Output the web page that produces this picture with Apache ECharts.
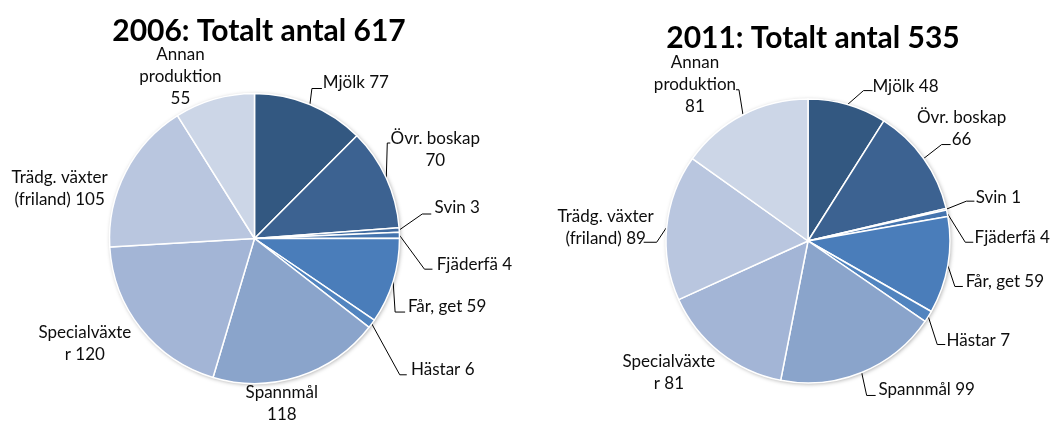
<!DOCTYPE html>
<html>
<head>
<meta charset="utf-8">
<script src="https://cdn.jsdelivr.net/npm/echarts@6/dist/echarts.min.js"></script>
<style>
  html, body { margin: 0; background: #fff; }
  #chart { width: 1058px; height: 421px; }
</style>
</head>
<body>
<div id="chart"></div>
<script>
// data
const categories = ['Mjölk', 'Övr. boskap', 'Svin', 'Fjäderfä', 'Får, get', 'Hästar',
  'Spannmål', 'Specialväxter', 'Trädg. växter (friland)', 'Annan produktion']
const values2006 = [77, 70, 3, 4, 59, 6, 118, 120, 105, 55]
const values2011 = [48, 66, 1, 4, 59, 7, 99, 81, 89, 81]
const titles = ['2006: Totalt antal 617', '2011: Totalt antal 535']

const colors = ['#335881', '#3c6291', '#416ba0', '#4574ae', '#4a7dba', '#5184bf',
  '#8aa4cb', '#a3b5d6', '#b9c6df', '#ccd6e7']

// where Excel wrapped the "name value" label text (character index)
const wrap2006 = [[], [11], [], [], [], [], [8], [12], [13], [5, 16]]
const wrap2011 = [[], [11], [], [], [], [], [], [12], [13], [5, 16]]

// label placement relative to the slice's edge point: [labelX, labelY, leader line [ex, ey, hx] or null]
const place2006 = [
  [46, -22, [2, -16, 10]],
  [49, -29, [1, -35, 3]],
  [58, -22, [23, -16, 9]],
  [75, 29, [25, 34, 8]],
  [54, 25, [2, 31, 10]],
  [71, 46, [28, 51, 7]],
  [-17, 27, null],
  [-56, 15, null],
  [-66, 16, null],
  [-34, -23, null]
]
const place2011 = [
  [58, -18, [16, -14, 9]],
  [38, -30, [18, -14, 9]],
  [52, -12, [20, -8, 8]],
  [65, 24, [18, 29, 8]],
  [57, 16, [7, 21, 8]],
  [50, 24, [9, 28, 8]],
  [65, 17, [5, 23, 9]],
  [-51, 20, null],
  [-61, 0, [-10, 15, -13]],
  [-48, -30, [-4, -25, -3]]
]

function wrapText(text, cuts) {
  let out = text
  cuts.slice().reverse().forEach(i => {
    out = out[i] === ' ' ? out.slice(0, i) + '\n' + out.slice(i + 1) : out.slice(0, i) + '\n' + out.slice(i)
  })
  return out
}

function buildData(values, wraps, places) {
  return values.map((v, i) => ({
    name: categories[i],
    value: v,
    label: { formatter: wrapText(categories[i] + ' ' + v, wraps[i]) },
    labelLine: { lineStyle: { opacity: places[i][2] ? 1 : 0 } }
  }))
}

function makeLayout(places) {
  return function (params) {
    const pts = params.labelLinePoints
    if (!pts) return {}
    const p0 = pts[0]
    const pl = places[params.dataIndex]
    const res = {
      x: p0[0] + pl[0],
      y: p0[1] + pl[1],
      align: 'center',
      verticalAlign: 'middle'
    }
    const ln = pl[2]
    if (ln) {
      const e = [p0[0] + ln[0], p0[1] + ln[1]]
      res.labelLinePoints = [[p0[0], p0[1]], e, [e[0] + ln[2], e[1]]]
    } else {
      res.labelLinePoints = [[p0[0], p0[1]], [p0[0], p0[1]], [p0[0], p0[1]]]
    }
    return res
  }
}

const sum = arr => arr.reduce((a, b) => a + b, 0)

function backdrop(center, radius, total) {
  return {
    type: 'pie',
    silent: true,
    z: 1,
    center: center,
    radius: radius,
    label: { show: false },
    labelLine: { show: false },
    itemStyle: {
      color: '#fff',
      shadowBlur: 4,
      shadowColor: 'rgba(0,0,0,0.35)',
      shadowOffsetX: 1,
      shadowOffsetY: 1
    },
    data: [{ value: total, name: 'total' }]
  }
}

function pieSeries(center, radius, values, wraps, places) {
  return {
    type: 'pie',
    z: 2,
    center: center,
    radius: radius,
    startAngle: 90,
    clockwise: true,
    avoidLabelOverlap: false,
    animation: false,
    itemStyle: {
      borderColor: '#fff',
      borderWidth: 1.5
    },
    label: {
      show: true,
      position: 'outside',
      color: '#0d0d0d',
      fontFamily: 'Lato',
      fontSize: 17,
      lineHeight: 22
    },
    labelLine: {
      show: true,
      length: 10,
      length2: 8,
      smooth: false,
      lineStyle: { color: '#000', width: 1 }
    },
    labelLayout: makeLayout(places),
    data: buildData(values, wraps, places)
  }
}

const titleStyle = { fontFamily: 'Lato', fontWeight: 'bold', fontSize: 30, color: '#000' }

const chart = echarts.init(document.getElementById('chart'))
chart.setOption({
  backgroundColor: '#fff',
  color: colors,
  animation: false,
  title: [
    {
      text: titles[0],
      left: 254, top: 26,
      textAlign: 'center', textVerticalAlign: 'middle',
      textStyle: titleStyle
    },
    {
      text: titles[1],
      left: 808, top: 33,
      textAlign: 'center', textVerticalAlign: 'middle',
      textStyle: titleStyle
    }
  ],
  series: [
    backdrop([254.5, 238.5], 145, sum(values2006)),
    backdrop([808, 241], 142, sum(values2011)),
    pieSeries([254.5, 238.5], 145, values2006, wrap2006, place2006),
    pieSeries([808, 241], 142, values2011, wrap2011, place2011)
  ]
})
</script>
</body>
</html>
